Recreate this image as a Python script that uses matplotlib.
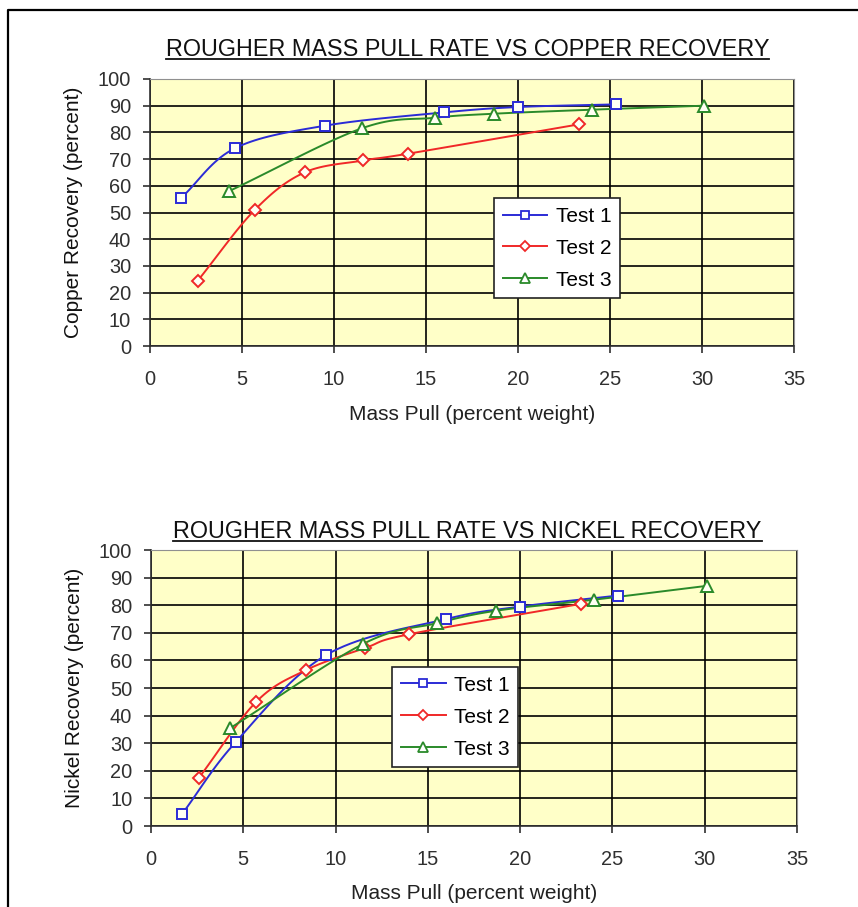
import numpy as np
import matplotlib
matplotlib.use('Agg')
import matplotlib.pyplot as plt
from matplotlib.lines import Line2D

plt.rcParams['font.family'] = ['Liberation Sans', 'DejaVu Sans']

# Mass pull (percent weight) for each test
mass_t1 = [1.7, 4.6, 9.5, 16.0, 20.0, 25.3]
mass_t2 = [2.6, 5.7, 8.4, 11.6, 14.0, 23.3]
mass_t3 = [4.3, 11.5, 15.5, 18.7, 24.0, 30.1]

# Copper recovery (percent)
cu_t1 = [55.5, 74.0, 82.5, 87.5, 89.5, 90.5]
cu_t2 = [24.5, 51.0, 65.0, 69.5, 72.0, 83.0]
cu_t3 = [58.0, 81.5, 85.5, 87.0, 88.5, 90.0]

# Nickel recovery (percent)
ni_t1 = [4.5, 30.5, 62.0, 75.0, 79.5, 83.5]
ni_t2 = [17.5, 45.0, 56.5, 64.5, 69.5, 80.5]
ni_t3 = [35.5, 66.0, 73.5, 78.0, 82.0, 87.0]

labels = ['Test 1', 'Test 2', 'Test 3']
colors = ['#2b2bd6', '#f02828', '#2a8a2a']
markers = ['s', 'D', '^']
msizes = [7.5, 6.5, 8]


def smooth(x, y, n=20):
    # catmull-rom path through the points, like excel's smoothed line
    x = np.asarray(x, float)
    y = np.asarray(y, float)
    px = np.concatenate([[2 * x[0] - x[1]], x, [2 * x[-1] - x[-2]]])
    py = np.concatenate([[2 * y[0] - y[1]], y, [2 * y[-1] - y[-2]]])
    t = np.linspace(0, 1, n)
    xs, ys = [], []
    for i in range(1, len(px) - 2):
        for arr, out in ((px, xs), (py, ys)):
            p0, p1, p2, p3 = arr[i - 1], arr[i], arr[i + 1], arr[i + 2]
            out.extend(0.5 * ((2 * p1) + (-p0 + p2) * t
                              + (2 * p0 - 5 * p1 + 4 * p2 - p3) * t ** 2
                              + (-p0 + 3 * p1 - 3 * p2 + p3) * t ** 3))
    return xs, ys


def draw_panel(ax, series, ylabel, leg_anchor, xlab_y):
    ax.set_facecolor('#ffffc8')
    for (x, y), lab, c, m, ms in zip(series, labels, colors, markers, msizes):
        sx, sy = smooth(x, y)
        ax.plot(sx, sy, color=c, lw=1.4, zorder=3)
        ax.plot(x, y, ls='none', marker=m, ms=ms, mfc='#fffff4', mec=c,
                mew=1.4, zorder=4)
    ax.set_xlim(0, 35)
    ax.set_ylim(0, 100)
    ax.set_xticks(np.arange(0, 36, 5))
    ax.set_yticks(np.arange(0, 101, 10))
    ax.grid(True, color='black', lw=1.2)
    ax.set_axisbelow(True)
    for s in ['top', 'right']:
        ax.spines[s].set_color('#909090')
    for s in ['left', 'bottom']:
        ax.spines[s].set_color('#303030')
        ax.spines[s].set_linewidth(1.2)
    ax.tick_params(direction='out', length=5, width=1.2, labelsize=14.4,
                   colors='#303030')
    ax.tick_params(axis='x', pad=12.5)
    ax.tick_params(axis='y', pad=8.5)
    ax.set_xlabel('Mass Pull (percent weight)', fontsize=15, color='#222222',
                  va='center')
    ax.xaxis.set_label_coords(0.5, xlab_y)
    ax.set_ylabel(ylabel, fontsize=15, color='#111111', va='center')
    ax.yaxis.set_label_coords(-0.118, 0.5)
    handles = [Line2D([], [], color=c, marker=m, ms=ms * 0.85, mfc='white',
                      mec=c, mew=1.3, lw=1.4)
               for c, m, ms in zip(colors, markers, msizes)]
    leg = ax.legend(handles, labels, loc='upper left', bbox_to_anchor=leg_anchor,
                    fontsize=15, frameon=True, fancybox=False, framealpha=1,
                    edgecolor='#222222', handlelength=2.15, labelspacing=0.62,
                    borderpad=0.42, handletextpad=0.4, borderaxespad=0)
    leg.get_frame().set_linewidth(1.2)
    leg.set_zorder(6)


fig = plt.figure(figsize=(8.58, 9.07), dpi=100)

ax1 = fig.add_axes([0.1748, 0.6185, 0.7506, 0.2944])
draw_panel(ax1, [(mass_t1, cu_t1), (mass_t2, cu_t2), (mass_t3, cu_t3)],
           'Copper Recovery (percent)', (0.534, 0.554), -0.258)

ax2 = fig.add_axes([0.1760, 0.0893, 0.7530, 0.3043])
draw_panel(ax2, [(mass_t1, ni_t1), (mass_t2, ni_t2), (mass_t3, ni_t3)],
           'Nickel Recovery (percent)', (0.373, 0.576), -0.243)

t1 = fig.text(0.545, 1 - 56 / 907, 'ROUGHER MASS PULL RATE VS COPPER RECOVERY',
              ha='center', va='baseline', fontsize=16.8, color='#111111')
t2 = fig.text(0.545, 1 - 538.5 / 907, 'ROUGHER MASS PULL RATE VS NICKEL RECOVERY',
              ha='center', va='baseline', fontsize=16.8, color='#111111')

# underline the titles
fig.canvas.draw()
inv = fig.transFigure.inverted()
for t, uy in ((t1, 1 - 58.5 / 907), (t2, 1 - 541 / 907)):
    bb = t.get_window_extent().transformed(inv)
    fig.add_artist(Line2D([bb.x0, bb.x1], [uy, uy],
                          transform=fig.transFigure, color='#111111', lw=1.3))

# page frame (left and top edges visible)
fig.add_artist(Line2D([8 / 858, 8 / 858, 1.0], [0.0, 1 - 10 / 907, 1 - 10 / 907],
                      transform=fig.transFigure, color='black', lw=1.6))

fig.savefig('out.png', dpi=100)
